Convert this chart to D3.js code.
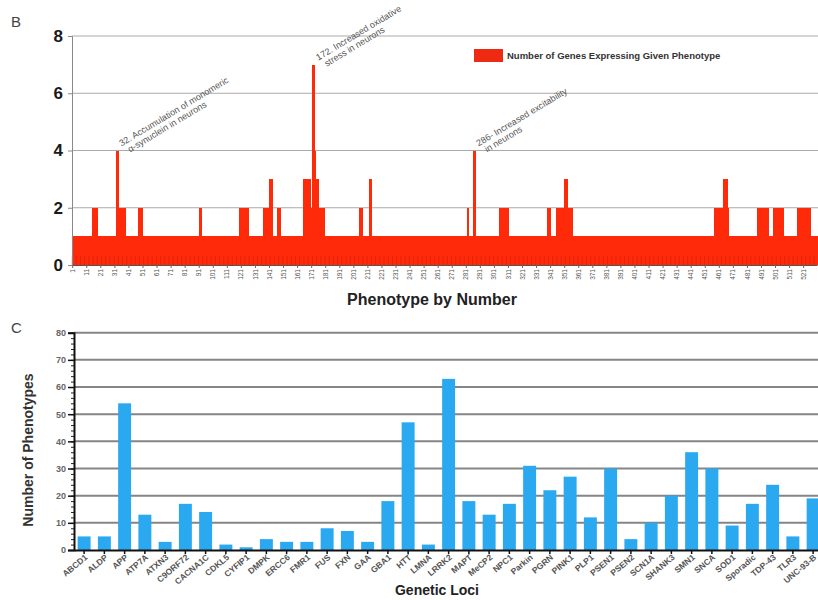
<!DOCTYPE html>
<html><head><meta charset="utf-8">
<script src="https://cdn.jsdelivr.net/npm/d3@7"></script>
<style>body{margin:0;background:#fff}svg{display:block;font-family:"Liberation Sans",Arial,sans-serif}</style>
</head><body><svg id="c" width="818" height="600"></svg>
<script>
// ---------- Panel B data ----------
const phenotypeCount = 530;
const baseGeneCount = 1;
// runs of phenotypes whose gene count differs from the baseline: [first id, last id, genes]
const phenotypeRuns = [
  [15,18,2],[32,33,4],[34,38,2],[48,50,2],[91,92,2],[120,125,2],
  [137,140,2],[141,142,3],[147,148,2],[165,169,3],[170,171,2],
  [172,172,7],[173,173,4],[174,175,3],[176,179,2],[205,206,2],[212,213,3],
  [282,282,2],[286,287,4],[305,310,2],[339,340,2],[345,350,2],[351,352,3],
  [353,356,2],[458,460,2],[462,463,2],[464,466,3],[467,467,2],
  [488,495,2],[500,506,2],[517,520,2],[522,525,2]
];
const phenotypeTickLabels = [1,11,21,31,41,51,61,71,81,91,101,111,121,131,141,151,161,171,181,191,
  201,211,221,231,241,251,261,271,281,291,301,311,321,331,341,351,361,371,381,391,
  401,411,421,431,441,451,461,471,481,491,501,511,521];
const geneTicks = [0,2,4,6,8];
const annotations = [
  {id:32,  lines:["32. Accumulation of monomeric","α-synuclein in neurons"]},
  {id:172, lines:["172. Increased oxidative","stress in neurons"]},
  {id:286, lines:["286- Increased excitability","in neurons"]}
];
const legendLabel = "Number of Genes Expressing Given Phenotype";

// ---------- Panel C data ----------
const loci = ["ABCD1","ALDP","APP","ATP7A","ATXN3","C9ORF72","CACNA1C","CDKL5","CYFIP1","DMPK",
  "ERCC6","FMR1","FUS","FXN","GAA","GBA1","HTT","LMNA","LRRK2","MAPT","MeCP2","NPC1","Parkin",
  "PGRN","PINK1","PLP1","PSEN1","PSEN2","SCN1A","SHANK3","SMN1","SNCA","SOD1","Sporadic",
  "TDP-43","TLR3","UNC-93-B"];
const phenotypesPerLocus = [5,5,54,13,3,17,14,2,1,4,3,3,8,7,3,18,47,2,63,18,13,17,31,22,27,12,30,4,10,20,36,30,9,17,24,5,19];
const phenoTicks = [0,10,20,30,40,50,60,70,80];

const svg = d3.select("#c");

// ================= PANEL B =================
const ids = d3.range(1, phenotypeCount + 1);
const counts = ids.map(i => { const r = phenotypeRuns.find(r => i >= r[0] && i <= r[1]); return r ? r[2] : baseGeneCount; });
const xB = d3.scaleBand().domain(ids).range([72, 817]).padding(0);
const yB = d3.scaleLinear().domain([0, 8]).range([265, 36]);

svg.append("text").attr("x", 11).attr("y", 27).attr("font-size", 15).attr("fill", "#444").text("B");

const gB = svg.append("g");
gB.selectAll("line.grid").data(geneTicks.filter(d => d > 0)).join("line")
  .attr("x1", 72).attr("x2", 818).attr("y1", d => yB(d)).attr("y2", d => yB(d))
  .attr("stroke", "#aaa").attr("stroke-width", 1);

gB.selectAll("rect.bar").data(ids).join("rect")
  .attr("x", d => xB(d)).attr("width", xB.bandwidth() + 1)
  .attr("y", (d, i) => yB(counts[i])).attr("height", (d, i) => yB(0) - yB(counts[i]))
  .attr("fill", "#ff2a0a").attr("shape-rendering", "crispEdges");

// darker band of category ticks at base of bars
gB.selectAll("line.tk").data(ids.filter((d, i) => i % 3 === 0)).join("line")
  .attr("x1", d => xB(d)).attr("x2", d => xB(d)).attr("y1", yB(0)).attr("y2", yB(0) - 9)
  .attr("stroke", "#8a0000").attr("stroke-opacity", 0.25).attr("stroke-width", 0.8);

const yAxB = gB.append("g").attr("transform", "translate(72,0)")
  .call(d3.axisLeft(yB).tickValues(geneTicks).tickSize(4).tickPadding(5));
yAxB.select(".domain").attr("stroke", "#888");
yAxB.selectAll(".tick line").attr("stroke", "#888");
yAxB.selectAll("text").attr("font-size", 17).attr("font-weight", "bold").attr("fill", "#1a1a1a")
  .attr("font-family", "Liberation Sans, Arial, sans-serif");

const xAxB = gB.append("g").attr("transform", `translate(0,${yB(0)})`)
  .call(d3.axisBottom(xB).tickValues(phenotypeTickLabels).tickSize(3).tickSizeOuter(0));
xAxB.select(".domain").attr("stroke", "#555");
xAxB.selectAll(".tick line").attr("stroke", "#666");
xAxB.selectAll("text").attr("font-size", 6.5).attr("fill", "#555")
  .attr("font-family", "Liberation Sans, Arial, sans-serif")
  .attr("transform", "rotate(-90)").attr("text-anchor", "end")
  .attr("x", -4).attr("y", 0).attr("dy", "0.32em");

svg.append("text").attr("x", 432).attr("y", 305).attr("text-anchor", "middle")
  .attr("font-size", 16).attr("font-weight", "bold").attr("fill", "#222").text("Phenotype by Number");

// legend
svg.append("rect").attr("x", 474).attr("y", 49).attr("width", 29).attr("height", 13).attr("fill", "#ee2a12");
svg.append("text").attr("x", 507).attr("y", 59).attr("font-size", 9.5).attr("font-weight", "bold")
  .attr("fill", "#333").text(legendLabel);

// annotations
annotations.forEach(a => {
  const v = counts[a.id - 1];
  const g = svg.append("g").attr("transform", `translate(${xB(a.id) + 6},${yB(v) - 4}) rotate(-31)`);
  a.lines.forEach((t, k) => g.append("text").attr("x", k * 4).attr("y", k * 9.5)
    .attr("font-size", 9).attr("fill", "#555").text(t));
});

// ================= PANEL C =================
const xC = d3.scaleBand().domain(loci).range([74, 74 + loci.length * 20.25]).paddingInner(0.36).paddingOuter(0.18);
const yC = d3.scaleLinear().domain([0, 80]).range([550, 332.7]);

svg.append("text").attr("x", 11).attr("y", 333).attr("font-size", 15).attr("fill", "#444").text("C");

const gC = svg.append("g");
gC.selectAll("line.grid").data(phenoTicks.filter(d => d > 0)).join("line")
  .attr("x1", 74).attr("x2", 818).attr("y1", d => yC(d)).attr("y2", d => yC(d))
  .attr("stroke", "#858585").attr("stroke-width", 2);

gC.selectAll("rect.bar").data(loci).join("rect")
  .attr("x", d => xC(d)).attr("width", xC.bandwidth())
  .attr("y", (d, i) => yC(phenotypesPerLocus[i])).attr("height", (d, i) => yC(0) - yC(phenotypesPerLocus[i]))
  .attr("fill", "#2aa9f0");

// minor ticks
gC.append("g").attr("transform", "translate(74,0)")
  .call(d3.axisLeft(yC).ticks(40).tickSize(3).tickFormat(""))
  .call(g => g.select(".domain").remove())
  .selectAll(".tick line").attr("stroke", "#222");

const yAxC = gC.append("g").attr("transform", "translate(74,0)")
  .call(d3.axisLeft(yC).tickValues(phenoTicks).tickSize(6).tickPadding(2));
yAxC.select(".domain").attr("stroke", "#111").attr("stroke-width", 2);
yAxC.selectAll(".tick line").attr("stroke", "#111").attr("stroke-width", 1.5);
yAxC.selectAll("text").attr("font-size", 9).attr("font-weight", "bold").attr("fill", "#666")
  .attr("font-family", "Liberation Sans, Arial, sans-serif");

const xAxC = gC.append("g").attr("transform", `translate(0,${yC(0)})`)
  .call(d3.axisBottom(xC).tickSize(4).tickSizeOuter(0));
xAxC.select(".domain").attr("stroke", "#111").attr("stroke-width", 2);
xAxC.selectAll(".tick line").attr("stroke", "#111").attr("stroke-width", 1.5);
xAxC.selectAll("text").attr("font-size", 8.5).attr("font-weight", "bold").attr("fill", "#555")
  .attr("font-family", "Liberation Sans, Arial, sans-serif")
  .attr("text-anchor", "end").attr("transform", "translate(2,6) rotate(-40)").attr("y", 0).attr("dy", "0.35em");

svg.append("text").attr("transform", "translate(33,450) rotate(-90)").attr("text-anchor", "middle")
  .attr("font-size", 14).attr("font-weight", "bold").attr("fill", "#333").text("Number of Phenotypes");

svg.append("text").attr("x", 437).attr("y", 595).attr("text-anchor", "middle")
  .attr("font-size", 14).attr("font-weight", "bold").attr("fill", "#222").text("Genetic Loci");
</script></body></html>
